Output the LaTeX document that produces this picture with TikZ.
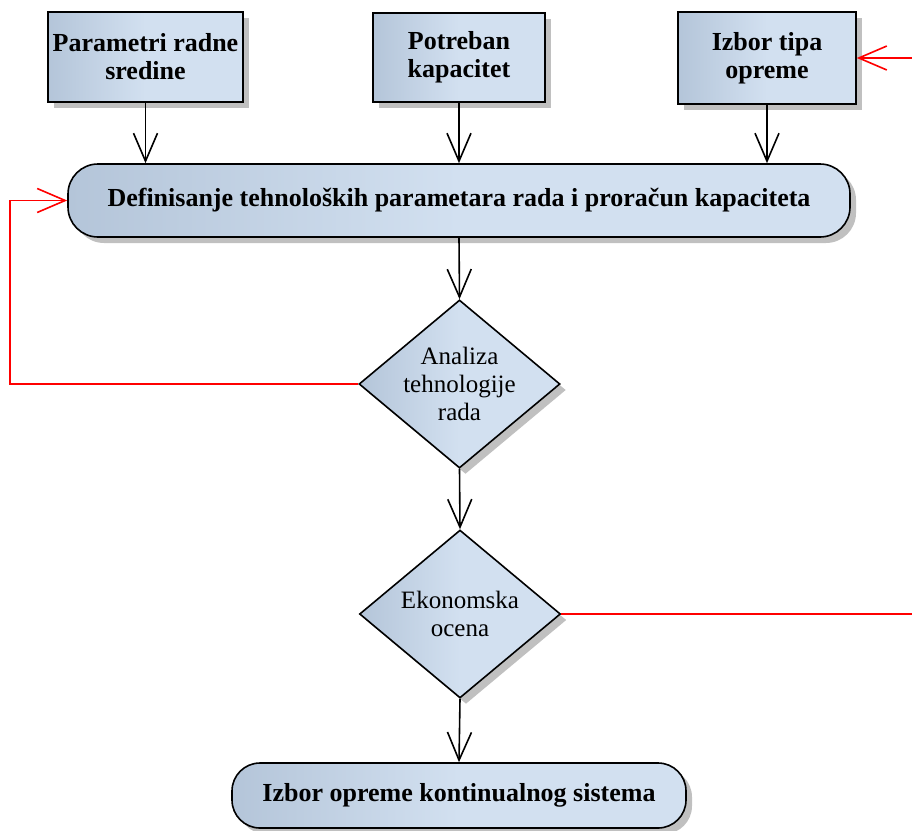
\documentclass[tikz,border=0pt]{standalone}
\usepackage{fontspec}
\setmainfont{Liberation Serif}
\usetikzlibrary{arrows.meta,shapes.geometric,shadows}
\definecolor{fillL}{HTML}{B4C5D9}
\definecolor{fillR}{HTML}{D2E0F0}
\definecolor{shadowgray}{HTML}{C0C0C0}
\tikzset{
	shaded/.style={draw=black,line width=1.6pt,left color=fillL,right color=fillR,middle color=fillR,
		drop shadow={shadow xshift=6pt,shadow yshift=-6pt,fill=shadowgray,opacity=1}},
	inbox/.style={shaded,rectangle,align=center,inner sep=2pt,
		font=\fontsize{26}{28}\selectfont\bfseries},
	stagebox/.style={shaded,rectangle,rounded corners=30pt,align=center,
		font=\fontsize{26}{28}\selectfont\bfseries},
	decision/.style={shaded,diamond,aspect=1.19,inner sep=0pt,minimum width=201pt,minimum height=168pt,
		align=center,font=\fontsize{25}{28}\selectfont},
	vtip/.style={-{Straight Barb[length=28pt,width=24pt,line width=1.6pt]}},
	flow/.style={line width=1.6pt,vtip},
	loopback/.style={draw=red,line width=1.6pt}
}
\begin{document}
\begin{tikzpicture}[x=1pt,y=-1pt]
	\useasboundingbox (0,0) rectangle (912,830) ;
	\coordinate (levo) at (10,0) ;
	\coordinate (desno) at (912,0) ;
	\node[inbox,minimum width=195pt,minimum height=90pt] (radna) at (145.5,57) {Parametri radne\\sredine} ;
	\node[inbox,minimum width=172pt,minimum height=89pt] (kapacitet) at (459,57.5) {Potreban\\kapacitet} ;
	\node[inbox,minimum width=178pt,minimum height=92pt] (tip) at (767,58) {Izbor tipa\\opreme} ;
	\node[stagebox,minimum width=782pt,minimum height=73pt] (definisanje) at (459,200.5)
		{Definisanje tehnoloških parametara rada i proračun kapaciteta} ;
	\node[decision] (analiza) at (459.5,384) {Analiza\\tehnologije\\rada} ;
	\node[decision] (ocena) at (460,614) {Ekonomska\\ocena} ;
	\node[stagebox,rounded corners=28pt,minimum width=454pt,minimum height=65pt] (izbor) at (459,795.5)
		{Izbor opreme kontinualnog sistema} ;
	\draw[flow] (radna) -- (radna |- definisanje.north) ;
	\draw[flow] (kapacitet) -- (kapacitet |- definisanje.north) ;
	\draw[flow] (tip) -- (tip |- definisanje.north) ;
	\draw[flow] (definisanje.south) -- (analiza.north) ;
	\draw[flow] (analiza.south) -- (ocena.north) ;
	\draw[flow] (ocena.south) -- (izbor.north) ;
	\draw[loopback,vtip] (analiza.west) -- (analiza.west -| levo) |- (definisanje.west) ;
	\draw[loopback] (ocena.east) -- (ocena.east -| desno) ;
	\draw[loopback,vtip] (tip.east -| desno) -- (tip.east) ;
\end{tikzpicture}
\end{document}
